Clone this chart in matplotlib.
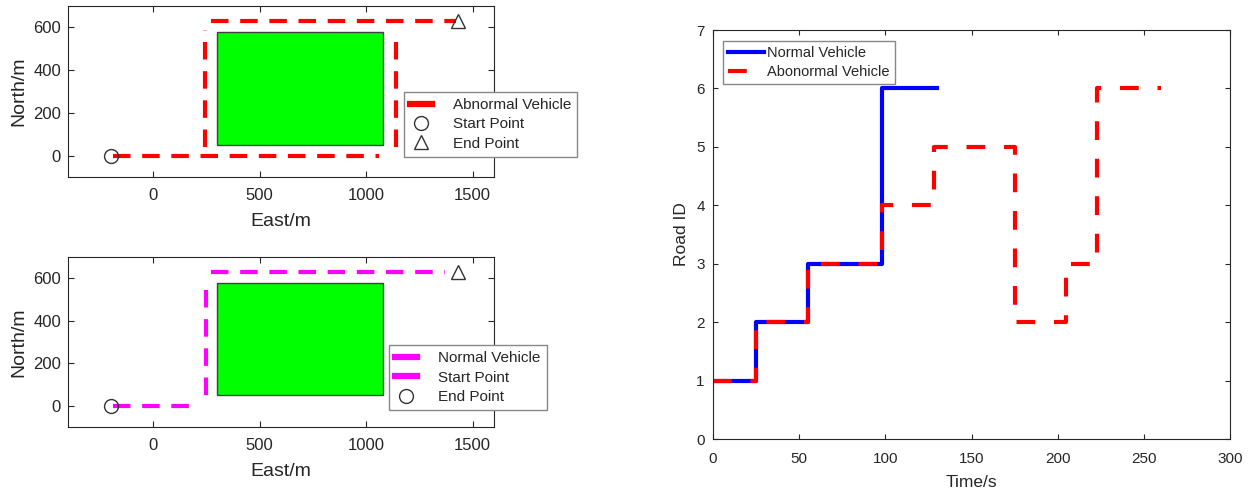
import numpy as np
import matplotlib
matplotlib.use("Agg")
import matplotlib.pyplot as plt
from matplotlib.patches import Rectangle
from matplotlib.lines import Line2D

plt.rcParams['font.family'] = ['Liberation Sans', 'DejaVu Sans']
plt.rcParams['axes.edgecolor'] = '#262626'
plt.rcParams['xtick.color'] = '#262626'
plt.rcParams['ytick.color'] = '#262626'
plt.rcParams['text.color'] = '#262626'
plt.rcParams['axes.labelcolor'] = '#262626'

# map data (East/North in m), NaN separates road pieces
abn_east = [-190, 1060, np.nan, 245, 245, np.nan, 1140, 1140, np.nan, 270, 1420]
abn_north = [0, 0, np.nan, 40, 590, np.nan, 40, 570, np.nan, 630, 630]
nor_east = [-190, 200, np.nan, 250, 250, np.nan, 270, 1370]
nor_north = [0, 0, np.nan, 50, 590, np.nan, 630, 630]
start_pt = (-200, 0)
end_pt = (1430, 630)
block = (300, 50, 1080, 580)  # x0, y0, x1, y1

# road ID over time
normal_t = [0, 25, 55, 98, 130]
normal_id = [1, 2, 3, 6, 6]
abnormal_t = [0, 25, 55, 98, 128, 175, 205, 223, 260]
abnormal_id = [1, 2, 3, 4, 5, 2, 3, 6, 6]

fig = plt.figure(figsize=(12.5, 4.91), dpi=100)

leg_kw = dict(fontsize=11, fancybox=False, edgecolor='#888888', framealpha=1,
              borderpad=0.4, labelspacing=0.35, handlelength=1.4, handletextpad=1.4)


def style_map(ax):
    ax.add_patch(Rectangle((block[0], block[1]), block[2] - block[0], block[3] - block[1],
                           facecolor='#00ff00', edgecolor='#404040', lw=1, zorder=1))
    ax.set_xlim(-400, 1600)
    ax.set_ylim(-100, 700)
    ax.set_xticks([0, 500, 1000, 1500])
    ax.set_yticks([0, 200, 400, 600])
    ax.tick_params(direction='in', top=True, right=True, labelsize=12, length=4)
    ax.tick_params(axis='x', pad=8)
    ax.tick_params(axis='y', pad=5)
    ax.set_xlabel('East/m', fontsize=14, labelpad=7)
    ax.set_ylabel('North/m', fontsize=14, labelpad=4)


ax1 = fig.add_axes([0.0544, 0.6395, 0.3408, 0.3483])
style_map(ax1)
ax1.plot(abn_east, abn_north, color='red', lw=3, dashes=(4.2, 2.8), zorder=2)
ax1.plot(*start_pt, 'o', mfc='none', mec='#333333', ms=10, mew=1, zorder=3)
ax1.plot(*end_pt, '^', mfc='none', mec='#333333', ms=10, mew=1, zorder=3)
h1 = [Line2D([], [], color='red', lw=4.5),
      Line2D([], [], ls='none', marker='o', mfc='none', mec='#333333', ms=10),
      Line2D([], [], ls='none', marker='^', mfc='none', mec='#333333', ms=10)]
ax1.legend(h1, ['Abnormal Vehicle', 'Start Point', 'End Point'], loc='upper left',
           bbox_to_anchor=(0.789, 0.497), borderaxespad=0, **leg_kw)

ax2 = fig.add_axes([0.0544, 0.1303, 0.3408, 0.3462])
style_map(ax2)
ax2.plot(nor_east, nor_north, color='magenta', lw=3, dashes=(4.2, 2.8), zorder=2)
ax2.plot(*start_pt, 'o', mfc='none', mec='#333333', ms=10, mew=1, zorder=3)
ax2.plot(*end_pt, '^', mfc='none', mec='#333333', ms=10, mew=1, zorder=3)
h2 = [Line2D([], [], color='magenta', lw=4.5),
      Line2D([], [], color='magenta', lw=4.5),
      Line2D([], [], ls='none', marker='o', mfc='none', mec='#333333', ms=10)]
ax2.legend(h2, ['Normal Vehicle', 'Start Point', 'End Point'], loc='upper left',
           bbox_to_anchor=(0.754, 0.482), borderaxespad=0, **leg_kw)

ax3 = fig.add_axes([0.5704, 0.1059, 0.4136, 0.833])
ax3.step(normal_t, normal_id, where='post', color='blue', lw=3, label='Normal Vehicle')
ax3.step(abnormal_t, abnormal_id, where='post', color='red', lw=3, dashes=(4.5, 4.5),
         label='Abonormal Vehicle')
ax3.set_xlim(0, 300)
ax3.set_ylim(0, 7)
ax3.set_xticks(range(0, 301, 50))
ax3.set_yticks(range(0, 8))
ax3.tick_params(direction='in', top=True, right=True, labelsize=11, length=3.5)
ax3.tick_params(axis='x', pad=9)
ax3.tick_params(axis='y', pad=6)
ax3.set_xlabel('Time/s', fontsize=12.5, labelpad=7)
ax3.set_ylabel('Road ID', fontsize=12.5, labelpad=5)
ax3.legend(loc='upper left', bbox_to_anchor=(0.019, 0.973), fontsize=10.5, fancybox=False,
           edgecolor='#888888', framealpha=1, borderpad=0.35, labelspacing=0.35,
           handlelength=2.5, handletextpad=0.2, borderaxespad=0)

fig.savefig('out.png', dpi=100)
